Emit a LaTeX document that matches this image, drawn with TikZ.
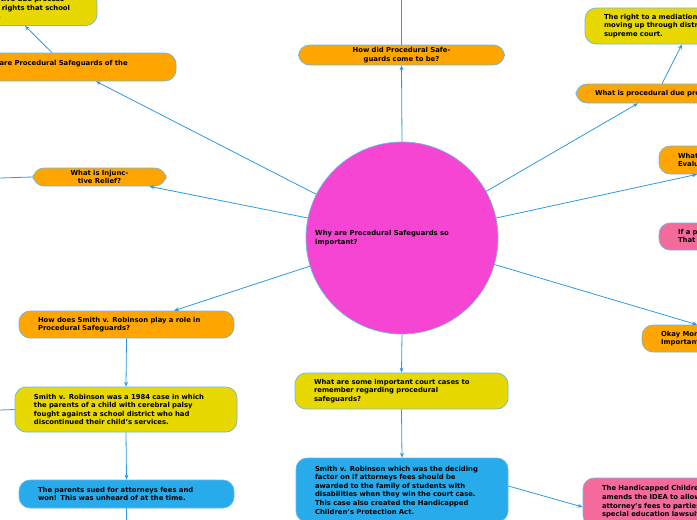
\documentclass[tikz,border=0pt]{standalone}
\usepackage{fontspec}
\setmainfont{DejaVu Sans}
\usetikzlibrary{arrows.meta}
\definecolor{cor}{HTML}{FFA500}
\definecolor{cye}{HTML}{E6D800}
\definecolor{cbl}{HTML}{27ABEB}
\definecolor{cpk}{HTML}{F46A9B}
\definecolor{cmg}{HTML}{F545D2}
\definecolor{cln}{HTML}{2A9AE2}
\tikzset{
  box/.style={draw=cln!70, line width=0.7pt, rounded corners=11pt, align=left,
    inner xsep=19pt, inner ysep=0pt, font=\fontsize{6.85}{8.6}\selectfont\bfseries, text=black},
  conn/.style={draw=cln, line width=0.8pt},
  arr/.style={conn, -{Stealth[length=5pt,width=4pt]}}
}
\newcommand{\bx}[7]{\node[box, fill=#1, minimum width=#4pt, minimum height=#5pt, text width=#4pt-38pt] (#2) at (#3) {#7};}
\begin{document}
\begin{tikzpicture}[x=1pt,y=-1pt]
\useasboundingbox (0,0) rectangle (697,520);
\node[draw=cln!70, line width=0.7pt, fill=cmg, circle, minimum size=192pt, inner sep=0pt] (circ) at (402,238) {};
\node[font=\fontsize{6.85}{8.6}\selectfont\bfseries, align=left, anchor=west, inner sep=0pt] (ctext) at (315,238) {Why are Procedural Safeguards so\\important?};
\bx{cye}{subst}{23.5,8.5}{147}{34}{}{Substantive due process\\are civil rights that school\\provide.}
\bx{cor}{idea}{67,67}{218}{28}{}{What are Procedural Safeguards of the\\IDEA?}
\node[box, fill=cor, minimum width=133pt, minimum height=18pt, text width=95pt, align=center] (inj) at (99.5,177) {What is Injunctive Relief?};
\node[box, fill=cor, minimum width=206pt, minimum height=20pt, text width=168pt, align=center] (how) at (401.5,55) {How did Procedural Safeguards come to be?};
\bx{cor}{due}{668,93.5}{184}{19}{}{What is procedural due process?}
\bx{cye}{med}{680,26}{190}{36}{}{The right to a mediation and\\moving up through district courts\\supreme court.}
\bx{cor}{ieval}{760,160}{202}{28}{}{What is an Independent Educational\\Evaluation?}
\bx{cpk}{ifp}{760,236.5}{202}{27}{}{If a parent disagrees with an IEP?\\That is when to use due process.}
\bx{cor}{okay}{745,338.5}{206}{27}{}{Okay More Things to Know:\\Important Vocabulary}
\bx{cor}{role}{126.5,324.5}{215}{27}{}{How does Smith v. Robinson play a role in\\Procedural Safeguards?}
\bx{cye}{case}{126,409.5}{222}{45}{}{Smith v. Robinson was a 1984 case in which\\the parents of a child with cerebral palsy\\fought against a school district who had\\discontinued their child's services.}
\bx{cbl}{par}{126.5,494}{215}{28}{}{The parents sued for attorneys fees and\\won! This was unheard of at the time.}
\bx{cye}{cases}{401.5,391}{213}{36}{}{What are some important court cases to\\remember regarding procedural\\safeguards?}
\bx{cbl}{fee}{402,490}{212}{64}{}{Smith v. Robinson which was the deciding\\factor on if attorneys fees should be\\awarded to the family of students with\\disabilities when they win the court case.\\This case also created the Handicapped\\Children's Protection Act.}
\bx{cpk}{hcpa}{690,502}{214}{48}{}{The Handicapped Children's Protection Act\\amends the IDEA to allow parents to recover\\attorney's fees to parties who win in\\special education lawsuits.}
\coordinate (c1) at (0,178);
\coordinate (c2) at (0,410);
\coordinate (c3) at (126.5,525);
\coordinate (c4) at (401.5,-5);
\draw[arr] (circ.153) -- ([xshift=29pt]idea.south);
\draw[arr] ([xshift=-15pt]idea.north) -- ([xshift=1.5pt]subst.south);
\draw[arr] (circ.168) -- ([xshift=50pt]inj.south);
\draw[conn] (inj.west) -- (c1);
\draw[arr] (circ.north) -- (how.south);
\draw[conn] (how.north) -- (c4);
\draw[arr] (circ.29.5) -- ([xshift=-30pt]due.south);
\draw[arr] ([xshift=-6pt]due.north) -- ([xshift=2pt]med.south);
\draw[arr] (circ.12) -- ([xshift=-63pt]ieval.south);
\draw[arr] (circ.-16.6) -- ([xshift=-48pt]okay.north);
\draw[arr] (circ.197.5) -- ([xshift=47.5pt]role.north);
\draw[arr] (role.south) -- (case.north);
\draw[conn] (case.west) -- (c2);
\draw[arr] (case.south) -- (par.north);
\draw[conn] (par.south) -- (c3);
\draw[arr] (circ.south) -- (cases.north);
\draw[arr] (cases.south) -- (fee.north);
\draw[arr] ([yshift=4pt]fee.east) -- ([yshift=-5pt]hcpa.west);
\end{tikzpicture}
\end{document}
